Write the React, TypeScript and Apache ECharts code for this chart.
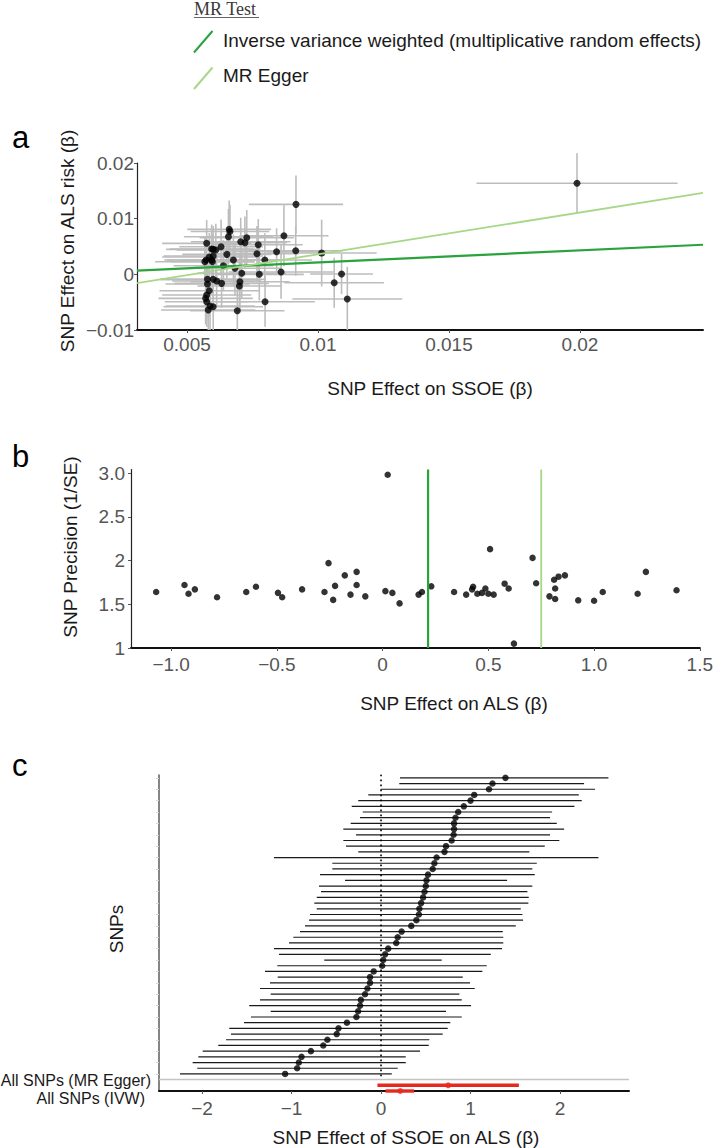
import React, { useEffect, useRef } from "react";
import * as echarts from "echarts";

const FONT = "'Liberation Sans', Arial, Helvetica, sans-serif";
const SERIF = "'Liberation Serif', 'Times New Roman', serif";

const IVW_COLOR = "#2aa23d";
const EGGER_COLOR = "#a7d788";
const RED = "#e8281f";
const BAR_GRAY = "#bdbdbd";
const TICK_TEXT = "#555555";
const TITLE_TEXT = "#1a1a1a";

// ---------------- Panel a: SNP effects on SSOE vs ALS ----------------
const ssoeBeta = [
  0.00916, 0.0087, 0.00915, 0.01014, 0.00842, 0.00772, 0.00767, 0.00797, 0.00859, 0.00776,
  0.00798, 0.01062, 0.0109, 0.01112, 0.00692, 0.00728, 0.00721, 0.00705, 0.00661, 0.00658,
  0.00664, 0.00677, 0.00683, 0.00709, 0.00702, 0.007, 0.00652, 0.0063, 0.00639, 0.00632,
  0.00613, 0.006, 0.0061, 0.006, 0.00594, 0.006, 0.00594, 0.00585, 0.00573, 0.00568,
  0.00575, 0.00578, 0.00578, 0.00585, 0.00575, 0.00571, 0.00575, 0.00588, 0.006, 0.00581,
  0.00597, 0.01989,
];
const alsBeta = [
  0.01257, 0.00693, 0.00424, 0.00383, 0.00406, 0.00532, 0.0037, 0.00257, 0.00041, 0.0,
  -0.00492, -0.00151, 0.00005, -0.00444, -0.00654, 0.00657, 0.00568, 0.00586, 0.00808, 0.00675,
  0.00769, 0.00257, 0.00108, 0.00018, -0.00133, -0.0021, 0.00359, 0.00496, 0.00154, -0.00162,
  -0.0012, -0.0009, 0.00437, 0.00449, 0.00454, 0.00329, 0.00257, 0.00311, 0.00257, 0.00226,
  0.00557, -0.0009, -0.00174, -0.00295, -0.00372, -0.00431, -0.00492, -0.00569, -0.00582, -0.00641,
  0.00226, 0.01635,
];
const ssoeSe = [
  0.0018, 0.0017, 0.0018, 0.0021, 0.0019, 0.0017, 0.0016, 0.0018, 0.002, 0.0017,
  0.0019, 0.0019, 0.0012, 0.0021, 0.0018, 0.0018, 0.0016, 0.0019, 0.0016, 0.0017,
  0.0015, 0.002, 0.0018, 0.0017, 0.0019, 0.0016, 0.0017, 0.0016, 0.0019, 0.0018,
  0.0017, 0.002, 0.0015, 0.0018, 0.0016, 0.0019, 0.0017, 0.0018, 0.0016, 0.0019,
  0.0017, 0.0018, 0.0016, 0.0019, 0.0017, 0.0018, 0.0016, 0.0017, 0.0019, 0.0018,
  0.0016, 0.00384,
];
const alsSe = [
  0.0052, 0.0055, 0.0045, 0.006, 0.0042, 0.0046, 0.005, 0.0048, 0.0048, 0.0047,
  0.0045, 0.0045, 0.0036, 0.0058, 0.0052, 0.005, 0.0047, 0.0043, 0.0052, 0.005,
  0.0048, 0.0046, 0.0049, 0.0045, 0.005, 0.0047, 0.0044, 0.0049, 0.0046, 0.0044,
  0.0043, 0.0045, 0.0047, 0.0042, 0.0044, 0.004, 0.0046, 0.0043, 0.0041, 0.0044,
  0.0042, 0.0045, 0.0043, 0.0046, 0.0044, 0.0047, 0.0045, 0.0043, 0.0046, 0.0044,
  0.0048, 0.0054,
];

// MR estimates
const ivwEstimate = 0.215;
const eggerEstimate = 0.75;
const eggerIntercept = -0.0039;
const ivwCi = [0.05, 0.37];
const eggerCi = [-0.04, 1.54];

// ---------------- Panels b & c: per-SNP ratio estimates (sorted) ----------------
const snpEffect = [
  -1.071, -0.937, -0.918, -0.888, -0.783, -0.645, -0.599, -0.495, -0.475, -0.381,
  -0.275, -0.256, -0.234, -0.225, -0.179, -0.152, -0.123, -0.123, -0.082, 0.013,
  0.024, 0.046, 0.08, 0.17, 0.186, 0.23, 0.338, 0.395, 0.423, 0.428,
  0.448, 0.47, 0.486, 0.5, 0.508, 0.525, 0.577, 0.596, 0.621, 0.709,
  0.726, 0.789, 0.811, 0.816, 0.816, 0.832, 0.862, 0.925, 1.0, 1.041,
  1.206, 1.245, 1.39,
];
const snpPrecision = [
  1.64, 1.72, 1.62, 1.67, 1.58, 1.64, 1.7, 1.63, 1.58, 1.67,
  1.64, 1.97, 1.55, 1.71, 1.83, 1.61, 1.87, 1.72, 1.59, 1.65,
  2.98, 1.63, 1.51, 1.61, 1.64, 1.705, 1.64, 1.61, 1.67, 1.7,
  1.62, 1.63, 1.68, 1.62, 2.13, 1.61, 1.735, 1.68, 1.05, 2.03,
  1.74, 1.59, 1.78, 1.68, 1.56, 1.815, 1.83, 1.545, 1.54, 1.64,
  1.62, 1.87, 1.66,
];
const snpCiLow = [
  -2.246, -2.053, -2.104, -2.041, -1.992, -1.818, -1.732, -1.676, -1.695, -1.531,
  -1.453, -1.232, -1.472, -1.352, -1.232, -1.352, -1.24, -1.154, -1.296, -1.159,
  -0.634, -1.14, -1.196, -1.028, -0.98, -0.905, -0.849, -0.804, -0.793, -0.718,
  -0.745, -0.718, -0.67, -0.693, -0.402, -0.682, -0.544, -0.544, -1.196, -0.254,
  -0.391, -0.421, -0.279, -0.421, -0.339, -0.235, -0.204, -0.327, -0.254, -0.142,
  -0.003, 0.204, 0.212,
];
const snpCiHigh = [
  0.12, 0.187, 0.276, 0.276, 0.436, 0.533, 0.54, 0.689, 0.745, 0.774,
  0.902, 0.726, 1.006, 0.902, 0.875, 1.047, 0.994, 0.913, 1.132, 1.181,
  0.678, 1.226, 1.352, 1.366, 1.366, 1.36, 1.505, 1.587, 1.579, 1.561,
  1.646, 1.65, 1.635, 1.69, 1.408, 1.717, 1.69, 1.74, 2.428, 1.657,
  1.829, 1.992, 1.888, 2.045, 1.963, 1.888, 1.911, 2.16, 2.242, 2.209,
  2.391, 2.268, 2.54,
];
const summaryLabels = ["All SNPs (IVW)", "All SNPs (MR Egger)"];

// ---------------- Tick labels ----------------
const aXTicks = [0.005, 0.01, 0.015, 0.02];
const aXTickLabels = ["0.005", "0.01", "0.015", "0.02"];
const aYTicks = [-0.01, 0, 0.01, 0.02];
const aYTickLabels = ["\u22120.01", "0", "0.01", "0.02"];
const bXTicks = [-1, -0.5, 0, 0.5, 1, 1.5];
const bXTickLabels = ["\u22121.0", "\u22120.5", "0", "0.5", "1.0", "1.5"];
const bYTicks = [1, 1.5, 2, 2.5, 3];
const bYTickLabels = ["1", "1.5", "2", "2.5", "3.0"];
const cXTicks = [-2, -1, 0, 1, 2];
const cXTickLabels = ["\u22122", "\u22121", "0", "1", "2"];

// axis ranges
const aXMin = 0.00309, aXMax = 0.0247, aYMin = -0.01, aYMax = 0.02;
const bXMin = -1.19, bXMax = 1.5, bYMin = 1, bYMax = 3.04;
const cXMin = -2.48, cXMax = 2.77, cYMin = 0, cYMax = 55.5;

const lookup = (ticks: number[], labels: string[]) => (v: number) => {
  const i = ticks.findIndex((t) => Math.abs(t - v) < 1e-9);
  return i >= 0 ? labels[i] : "";
};

function axis(
  gridIndex: number,
  min: number,
  max: number,
  ticks: number[] | null,
  labels: string[] | null,
  o: { lineColor: string; lineWidth: number; margin: number; tickColor?: string; tickValues?: number[] }
) {
  return {
    type: "value",
    gridIndex,
    min,
    max,
    splitLine: { show: false },
    axisLine: { show: true, onZero: false, lineStyle: { color: o.lineColor, width: o.lineWidth } },
    axisTick: {
      show: true,
      length: 3,
      inside: false,
      customValues: o.tickValues || ticks || [],
      lineStyle: { color: o.tickColor || "#555", width: 1 },
    },
    axisLabel: ticks
      ? {
          show: true,
          customValues: ticks,
          formatter: lookup(ticks, labels as string[]),
          color: TICK_TEXT,
          fontSize: 19,
          fontFamily: FONT,
          margin: o.margin,
        }
      : { show: false },
  };
}

function txt(x: number, y: number, text: string, opts: any = {}) {
  const align = opts.align || "center";
  const va = opts.va || "middle";
  return {
    type: "text",
    x,
    y,
    rotation: opts.rotation || 0,
    silent: true,
    style: {
      text,
      fill: opts.fill || TITLE_TEXT,
      font: `${opts.size || 19}px ${opts.family || FONT}`,
      align,
      verticalAlign: va,
      textAlign: align,
      textVerticalAlign: va,
    },
  };
}

function seg(x1: number, y1: number, x2: number, y2: number, stroke: string, lineWidth: number) {
  return { type: "line", silent: true, shape: { x1, y1, x2, y2 }, style: { stroke, lineWidth } };
}

export default function App() {
  const ref = useRef<HTMLDivElement>(null);

  useEffect(() => {
    const chart = echarts.init(ref.current!, null, { renderer: "svg" });

    const option: any = {
      animation: false,
      backgroundColor: "#ffffff",
      grid: [
        { left: 137, top: 163, width: 566, height: 167 },
        { left: 131, top: 469.5, width: 572, height: 178.5 },
        { left: 159, top: 775, width: 470, height: 316 },
      ],
      xAxis: [
        axis(0, aXMin, aXMax, aXTicks, aXTickLabels, { lineColor: "#111", lineWidth: 2, margin: 5 }),
        axis(1, bXMin, bXMax, bXTicks, bXTickLabels, { lineColor: "#111", lineWidth: 2, margin: 7 }),
        axis(2, cXMin, cXMax, cXTicks, cXTickLabels, { lineColor: "#111", lineWidth: 2, margin: 8 }),
      ],
      yAxis: [
        axis(0, aYMin, aYMax, aYTicks, aYTickLabels, { lineColor: "#222", lineWidth: 1.2, margin: 3 }),
        axis(1, bYMin, bYMax, bYTicks, bYTickLabels, { lineColor: "#222", lineWidth: 1.2, margin: 6 }),
        axis(2, cYMin, cYMax, null, null, {
          lineColor: "#666",
          lineWidth: 1.6,
          margin: 4,
          tickColor: "#d6d6d6",
          tickValues: snpEffect.map((_, i) => i + 3).filter((_, i) => i % 2 === 0),
        }),
      ],
      series: [
        // ---- panel a ----
        {
          type: "custom",
          xAxisIndex: 0,
          yAxisIndex: 0,
          clip: false,
          silent: true,
          data: ssoeBeta.map((x, i) => [x, alsBeta[i], ssoeSe[i], alsSe[i]]),
          encode: { x: 0, y: 1 },
          renderItem: (_p: any, api: any) => {
            const x = api.value(0);
            const y = api.value(1);
            const xe = api.value(2);
            const ye = api.value(3);
            const h1 = api.coord([x - xe, y]);
            const h2 = api.coord([x + xe, y]);
            const v1 = api.coord([x, Math.max(y - ye, aYMin)]);
            const v2 = api.coord([x, y + ye]);
            const style = { stroke: BAR_GRAY, lineWidth: 1.6 };
            return {
              type: "group",
              children: [
                { type: "line", shape: { x1: h1[0], y1: h1[1], x2: h2[0], y2: h2[1] }, style },
                { type: "line", shape: { x1: v1[0], y1: v1[1], x2: v2[0], y2: v2[1] }, style },
              ],
            };
          },
        },
        {
          type: "scatter",
          xAxisIndex: 0,
          yAxisIndex: 0,
          silent: true,
          clip: false,
          data: ssoeBeta.map((x, i) => [x, alsBeta[i]]),
          symbolSize: 7,
          itemStyle: { color: "#000" },
        },
        {
          type: "line",
          xAxisIndex: 0,
          yAxisIndex: 0,
          silent: true,
          symbol: "none",
          data: [
            [aXMin, ivwEstimate * aXMin],
            [aXMax, ivwEstimate * aXMax],
          ],
          lineStyle: { color: IVW_COLOR, width: 2.2 },
        },
        {
          type: "line",
          xAxisIndex: 0,
          yAxisIndex: 0,
          silent: true,
          symbol: "none",
          data: [
            [aXMin, eggerIntercept + eggerEstimate * aXMin],
            [aXMax, eggerIntercept + eggerEstimate * aXMax],
          ],
          lineStyle: { color: EGGER_COLOR, width: 1.8 },
        },
        // ---- panel b ----
        {
          type: "scatter",
          xAxisIndex: 1,
          yAxisIndex: 1,
          silent: true,
          clip: false,
          data: snpEffect.map((x, i) => [x, snpPrecision[i]]),
          symbolSize: 6.5,
          itemStyle: { color: "#000" },
        },
        {
          type: "line",
          xAxisIndex: 1,
          yAxisIndex: 1,
          silent: true,
          symbol: "none",
          data: [
            [ivwEstimate, bYMin],
            [ivwEstimate, bYMax],
          ],
          lineStyle: { color: IVW_COLOR, width: 2.2 },
        },
        {
          type: "line",
          xAxisIndex: 1,
          yAxisIndex: 1,
          silent: true,
          symbol: "none",
          data: [
            [eggerEstimate, bYMin],
            [eggerEstimate, bYMax],
          ],
          lineStyle: { color: EGGER_COLOR, width: 1.8 },
        },
        // ---- panel c ----
        {
          type: "line",
          xAxisIndex: 2,
          yAxisIndex: 2,
          silent: true,
          symbol: "none",
          data: [
            [cXMin, 2],
            [cXMax, 2],
          ],
          lineStyle: { color: "#c4c4c4", width: 1.5 },
        },
        {
          type: "line",
          xAxisIndex: 2,
          yAxisIndex: 2,
          silent: true,
          symbol: "none",
          data: [
            [0, 2.6],
            [0, 55.6],
          ],
          lineStyle: { color: "#000", width: 1.6, type: [1.6, 3.4] },
        },
        {
          type: "custom",
          xAxisIndex: 2,
          yAxisIndex: 2,
          silent: true,
          clip: false,
          data: snpEffect.map((_, i) => [snpCiLow[i], snpCiHigh[i], i + 3]),
          encode: { x: [0, 1], y: 2 },
          renderItem: (_p: any, api: any) => {
            const p1 = api.coord([api.value(0), api.value(2)]);
            const p2 = api.coord([api.value(1), api.value(2)]);
            return {
              type: "line",
              shape: { x1: p1[0], y1: p1[1], x2: p2[0], y2: p2[1] },
              style: { stroke: "#1a1a1a", lineWidth: 1.2 },
            };
          },
        },
        {
          type: "scatter",
          xAxisIndex: 2,
          yAxisIndex: 2,
          silent: true,
          clip: false,
          data: snpEffect.map((x, i) => [x, i + 3]),
          symbolSize: 6.5,
          itemStyle: { color: "#000" },
        },
        {
          type: "custom",
          xAxisIndex: 2,
          yAxisIndex: 2,
          silent: true,
          clip: false,
          data: [
            [ivwCi[0], ivwCi[1], 0],
            [eggerCi[0], eggerCi[1], 1],
          ],
          encode: { x: [0, 1], y: 2 },
          renderItem: (_p: any, api: any) => {
            const p1 = api.coord([api.value(0), api.value(2)]);
            const p2 = api.coord([api.value(1), api.value(2)]);
            return {
              type: "line",
              shape: { x1: p1[0], y1: p1[1], x2: p2[0], y2: p2[1] },
              style: { stroke: RED, lineWidth: 3.4 },
            };
          },
        },
        {
          type: "scatter",
          xAxisIndex: 2,
          yAxisIndex: 2,
          silent: true,
          clip: false,
          data: [
            [ivwEstimate, 0],
            [eggerEstimate, 1],
          ],
          symbolSize: 6,
          itemStyle: { color: RED },
        },
      ],
      graphic: [
        // legend
        txt(194, 9, "MR Test", { align: "left", family: SERIF, size: 18, fill: "#3a3a3a" }),
        seg(194, 17.5, 259, 17.5, "#666", 1),
        seg(194, 52.5, 212.5, 31, IVW_COLOR, 2),
        txt(223, 40, "Inverse variance weighted (multiplicative random effects)", { align: "left" }),
        seg(194, 89, 212.5, 67.5, EGGER_COLOR, 2),
        txt(223, 75, "MR Egger", { align: "left" }),
        // panel letters
        txt(12, 137, "a", { align: "left", size: 31, fill: "#000" }),
        txt(12, 456, "b", { align: "left", size: 31, fill: "#000" }),
        txt(12, 765, "c", { align: "left", size: 31, fill: "#000" }),
        // axis titles
        txt(67, 241, "SNP Effect on ALS risk (\u03b2)", { rotation: Math.PI / 2 }),
        txt(430, 388, "SNP Effect on SSOE (\u03b2)"),
        txt(70, 547, "SNP Precision (1/SE)", { rotation: Math.PI / 2 }),
        txt(454, 703, "SNP Effect on ALS (\u03b2)"),
        txt(116, 929, "SNPs", { rotation: Math.PI / 2 }),
        txt(406, 1137, "SNP Effect of SSOE on ALS (\u03b2)"),
        // summary row labels
        txt(151, 1080, summaryLabels[1], { align: "right", size: 16 }),
        txt(145, 1098, summaryLabels[0], { align: "right", size: 16 }),
      ],
    };

    chart.setOption(option);
    return () => chart.dispose();
  }, []);

  return (
    <div
      ref={ref}
      style={{ position: "absolute", left: 0, top: 0, width: 716, height: 1148 }}
    />
  );
}
